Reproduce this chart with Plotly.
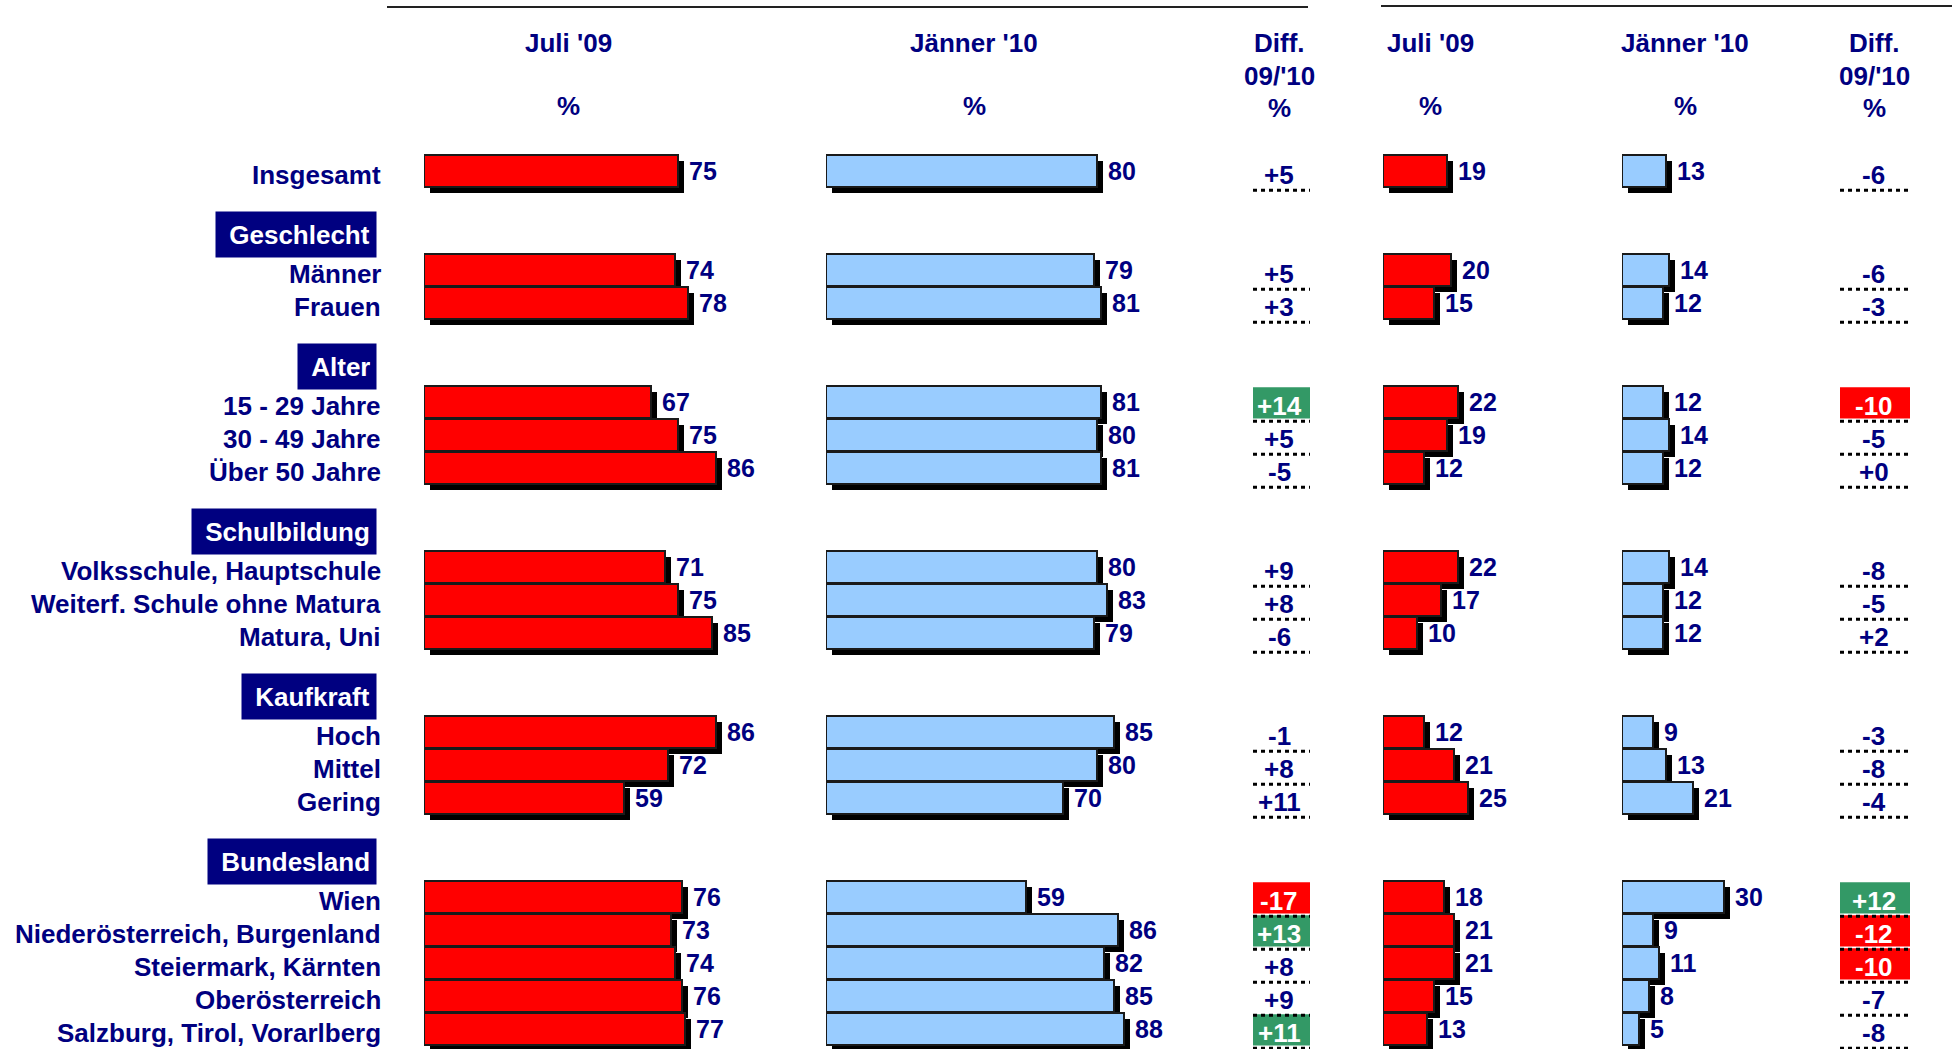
import plotly.graph_objects as go

# ---------------- data ----------------
categories = ["Insgesamt",
              "Männer", "Frauen",
              "15 - 29 Jahre", "30 - 49 Jahre", "Über 50 Jahre",
              "Volksschule, Hauptschule", "Weiterf. Schule ohne Matura", "Matura, Uni",
              "Hoch", "Mittel", "Gering",
              "Wien", "Niederösterreich, Burgenland", "Steiermark, Kärnten",
              "Oberösterreich", "Salzburg, Tirol, Vorarlberg"]
group_names = ["", "Geschlecht", "Alter", "Schulbildung", "Kaufkraft", "Bundesland"]
group_of = [0, 1, 1, 2, 2, 2, 3, 3, 3, 4, 4, 4, 5, 5, 5, 5, 5]

jul09_left = [75, 74, 78, 67, 75, 86, 71, 75, 85, 86, 72, 59, 76, 73, 74, 76, 77]
jan10_left = [80, 79, 81, 81, 80, 81, 80, 83, 79, 85, 80, 70, 59, 86, 82, 85, 88]
diff_left = ["+5", "+5", "+3", "+14", "+5", "-5", "+9", "+8", "-6", "-1", "+8", "+11",
             "-17", "+13", "+8", "+9", "+11"]
sig_left = [0, 0, 0, 1, 0, 0, 0, 0, 0, 0, 0, 0, 1, 1, 0, 0, 1]

jul09_right = [19, 20, 15, 22, 19, 12, 22, 17, 10, 12, 21, 25, 18, 21, 21, 15, 13]
jan10_right = [13, 14, 12, 12, 14, 12, 14, 12, 12, 9, 13, 21, 30, 9, 11, 8, 5]
diff_right = ["-6", "-6", "-3", "-10", "-5", "+0", "-8", "-5", "+2", "-3", "-8", "-4",
              "+12", "-12", "-10", "-7", "-8"]
sig_right = [0, 0, 0, 1, 0, 0, 0, 0, 0, 0, 0, 0, 1, 1, 1, 0, 0]

col_titles = ["Juli '09", "Jänner '10", "Diff.<br>09/'10<br>%"]

# ---------------- layout constants ----------------
W, H = 1952, 1049
ROW0_PX, ROW_PX = 171, 33
PX_PER_UNIT = 3.39
NAVY = "#000080"
RED = "#FF0000"
BLUE = "#99CCFF"
GREEN = "#339966"
FONT = "Liberation Sans, Arial, sans-serif"

# row positions (slot units)
pos = []
k = 0
prev = None
for g in group_of:
    if prev is None:
        k = 0
    elif g != prev:
        k += 3
    else:
        k += 1
    pos.append(k)
    prev = g

def px2paper_x(px):
    return px / W

def px2paper_y(py):
    return 1 - py / H

fig = go.Figure()

# bar columns: (values, color, axis id, zero px, range max)
bar_cols = [
    (jul09_left, RED, "", 424, 100),
    (jan10_left, BLUE, "2", 826, 100),
    (jul09_right, RED, "3", 1383, 40),
    (jan10_right, BLUE, "4", 1622, 40),
]
shadow_units = 6 / PX_PER_UNIT
shadow_rows = 6 / ROW_PX

layout_axes = {}
annotations = []
shapes = []

for vals, color, ax, zero, rmax in bar_cols:
    xa = "x" + ax
    fig.add_trace(go.Bar(
        x=vals, y=[p + shadow_rows for p in pos], base=shadow_units,
        orientation="h", width=0.98, xaxis=xa, yaxis="y",
        marker=dict(color="black", line=dict(width=0)),
        hoverinfo="skip", showlegend=False))
    fig.add_trace(go.Bar(
        x=vals, y=pos, orientation="h", width=0.98, xaxis=xa, yaxis="y",
        marker=dict(color=color, line=dict(color="#1a1a1a", width=2)),
        showlegend=False, hoverinfo="x+y"))
    layout_axes["xaxis" + ax] = dict(
        domain=[px2paper_x(zero), px2paper_x(zero + PX_PER_UNIT * rmax)],
        range=[0, rmax], visible=False, anchor="y", fixedrange=True)
    for v, p in zip(vals, pos):
        annotations.append(dict(
            x=v, y=p, xref=xa, yref="y", text="<b>%d</b>" % v,
            showarrow=False, xanchor="left", yanchor="middle", xshift=9,
            font=dict(family=FONT, size=25, color=NAVY)))

# diff columns
diff_cols = [
    (diff_left, sig_left, "5", 1253, 1310, -5 / 57),
    (diff_right, sig_right, "6", 1840, 1910, -3 / 70),
]
for dvals, sig, ax, x0px, x1px, box0 in diff_cols:
    xa = "x" + ax
    layout_axes["xaxis" + ax] = dict(
        domain=[px2paper_x(x0px), px2paper_x(x1px)], range=[0, 1],
        visible=False, anchor="y", fixedrange=True)
    cx = (box0 + 1) / 2
    for d, s, p in zip(dvals, sig, pos):
        if s:
            shapes.append(dict(type="rect", xref=xa, yref="y",
                               x0=box0, x1=1, y0=p - 0.45, y1=p + 0.5,
                               fillcolor=GREEN if d.startswith("+") else RED,
                               line=dict(width=0), layer="below"))
        shapes.append(dict(type="line", xref=xa, yref="y",
                           x0=0, x1=1, y0=p + 0.585, y1=p + 0.585,
                           line=dict(color="black", width=3, dash="4px,4px")))
        annotations.append(dict(
            x=cx, y=p, xref=xa, yref="y", text="<b>%s</b>" % d,
            showarrow=False, xanchor="center", yanchor="middle", yshift=-4,
            font=dict(family=FONT, size=26, color="white" if s else NAVY)))

# category labels
for c, p in zip(categories, pos):
    annotations.append(dict(
        x=px2paper_x(383), y=p, xref="paper", yref="y", text="<b>%s</b>" % c,
        showarrow=False, xanchor="right", yanchor="middle", yshift=-3.5,
        font=dict(family=FONT, size=26, color=NAVY)))

# group header boxes
seen = set()
for g, p in zip(group_of, pos):
    if g in seen:
        continue
    seen.add(g)
    name = group_names[g]
    if not name:
        continue
    annotations.append(dict(
        x=px2paper_x(377), y=p - 1.08, xref="paper", yref="y",
        text="&nbsp;<b>%s</b>" % name, showarrow=False,
        xanchor="right", yanchor="middle", bgcolor=NAVY, borderpad=6,
        height=33, valign="middle",
        font=dict(family=FONT, size=26, color="white")))

# column headers
header_specs = [
    (568, col_titles[0], True), (974, col_titles[1], True),
    (1430, col_titles[0], True), (1685, col_titles[1], True),
]
for cx, t, pct in header_specs:
    annotations.append(dict(x=px2paper_x(cx), y=px2paper_y(43), xref="paper", yref="paper",
                            text="<b>%s</b>" % t, showarrow=False, xanchor="center",
                            yanchor="middle", font=dict(family=FONT, size=26, color=NAVY)))
    annotations.append(dict(x=px2paper_x(cx), y=px2paper_y(106), xref="paper", yref="paper",
                            text="<b>%</b>", showarrow=False, xanchor="center",
                            yanchor="middle", font=dict(family=FONT, size=26, color=NAVY)))
for cx in (1279, 1874):
    for line_t, ypx in zip(col_titles[2].split("<br>"), (43, 76, 108)):
        annotations.append(dict(x=px2paper_x(cx), y=px2paper_y(ypx), xref="paper", yref="paper",
                                text="<b>%s</b>" % line_t, showarrow=False, xanchor="center",
                                yanchor="middle", font=dict(family=FONT, size=26, color=NAVY)))

# top rules
shapes.append(dict(type="line", xref="paper", yref="paper",
                   x0=px2paper_x(387), x1=px2paper_x(1308),
                   y0=px2paper_y(7), y1=px2paper_y(7),
                   line=dict(color="#222222", width=2)))
shapes.append(dict(type="line", xref="paper", yref="paper",
                   x0=px2paper_x(1381), x1=1,
                   y0=px2paper_y(6), y1=px2paper_y(6),
                   line=dict(color="#222222", width=2)))

fig.update_layout(
    width=W, height=H,
    margin=dict(l=0, r=0, t=0, b=0),
    paper_bgcolor="white", plot_bgcolor="rgba(0,0,0,0)",
    barmode="overlay", bargap=0,
    showlegend=False,
    yaxis=dict(range=[(H - ROW0_PX) / ROW_PX, -ROW0_PX / ROW_PX], visible=False,
               fixedrange=True, domain=[0, 1]),
    annotations=annotations, shapes=shapes,
    font=dict(family=FONT, color=NAVY),
    **layout_axes,
)

fig.write_html("out.html", config={"displayModeBar": False},
               post_script="document.body.style.margin='0';document.body.style.overflow='hidden';")
